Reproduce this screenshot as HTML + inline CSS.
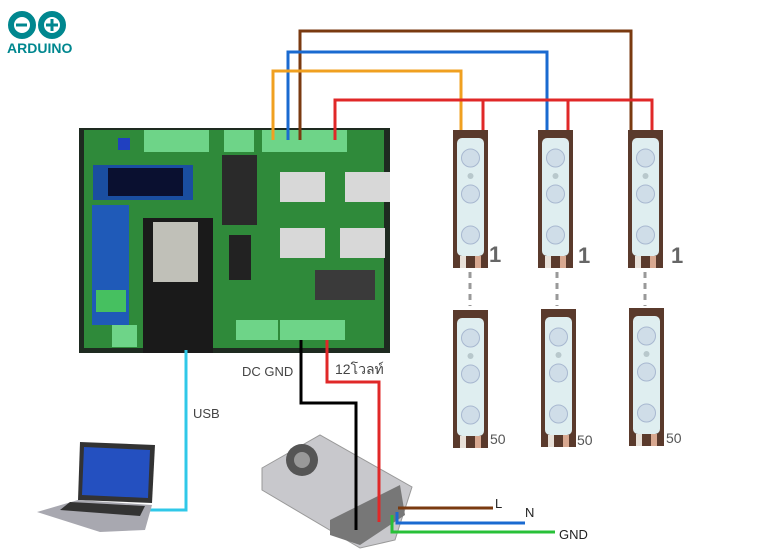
<!DOCTYPE html>
<html><head><meta charset="utf-8"><style>
html,body{margin:0;padding:0;background:#fff;width:768px;height:554px;overflow:hidden}
svg{display:block}
text{font-family:"Liberation Sans","Noto Sans CJK SC",sans-serif}
</style></head><body>
<svg width="768" height="554" viewBox="0 0 768 554" xmlns="http://www.w3.org/2000/svg">
<defs>
<g id="led">
<rect x="0" y="0" width="35" height="138" fill="#5a3a2c"/>
<rect x="4" y="8" width="27" height="118" rx="5" fill="#dfeef0"/>
<circle cx="17.5" cy="28" r="9" fill="#cfdde8" stroke="#a8b8d0"/>
<circle cx="17.5" cy="64" r="9" fill="#cfdde8" stroke="#a8b8d0"/>
<circle cx="17.5" cy="105" r="9" fill="#cfdde8" stroke="#a8b8d0"/>
<circle cx="17.5" cy="46" r="3" fill="#b8c8cc"/>
<rect x="7" y="126" width="6" height="12" fill="#e8e0d8"/>
<rect x="22" y="126" width="6" height="12" fill="#d8a890"/>
</g>
</defs>
<!-- Arduino logo -->
<g fill="none" stroke="#00878f" stroke-width="6">
<circle cx="22" cy="25" r="11"/><circle cx="52" cy="25" r="11"/>
</g>
<g stroke="#00878f" stroke-width="3"><line x1="16" y1="25" x2="27" y2="25"/><line x1="46" y1="25" x2="58" y2="25"/><line x1="52" y1="19" x2="52" y2="31"/></g>
<text x="7" y="53" font-size="14" font-weight="bold" fill="#00878f">ARDUINO</text>

<!-- board -->
<rect x="79" y="128" width="311" height="225" fill="#1e2a20"/>
<rect x="84" y="130" width="300" height="218" fill="#2f8a3a"/>
<rect x="93" y="165" width="100" height="35" fill="#1a4ea0"/>
<rect x="108" y="168" width="75" height="28" fill="#0a1030"/>
<rect x="92" y="205" width="37" height="120" fill="#1f5ab8"/>
<rect x="96" y="290" width="30" height="22" fill="#46c060"/>
<rect x="143" y="218" width="70" height="135" fill="#1a1a1a"/>
<rect x="153" y="222" width="45" height="60" fill="#c0c0b8"/>
<rect x="144" y="130" width="65" height="22" fill="#6ed488"/>
<rect x="224" y="130" width="30" height="22" fill="#6ed488"/>
<rect x="262" y="130" width="85" height="22" fill="#6ed488"/>
<rect x="222" y="155" width="35" height="70" fill="#2a2a2a"/>
<rect x="280" y="172" width="45" height="30" fill="#d8d8d8"/>
<rect x="345" y="172" width="45" height="30" fill="#d8d8d8"/>
<rect x="280" y="228" width="45" height="30" fill="#d8d8d8"/>
<rect x="340" y="228" width="45" height="30" fill="#d8d8d8"/>
<rect x="229" y="235" width="22" height="45" fill="#222"/>
<rect x="236" y="320" width="42" height="20" fill="#6ed488"/>
<rect x="280" y="320" width="65" height="20" fill="#6ed488"/>
<rect x="112" y="325" width="25" height="22" fill="#6ed488"/>
<rect x="118" y="138" width="12" height="12" fill="#2040c0"/>
<rect x="315" y="270" width="60" height="30" fill="#3a3a3a"/>

<!-- top wires -->
<g fill="none" stroke-width="3">
<polyline stroke="#7a3a10" points="300,140 300,31 631,31 631,130"/>
<polyline stroke="#1a6ad0" points="288,140 288,52 547,52 547,130"/>
<polyline stroke="#f0a020" points="273,140 273,71 461,71 461,130"/>
<polyline stroke="#e02828" points="335,140 335,100 652,100 652,130"/>
<line stroke="#e02828" x1="483" y1="100" x2="483" y2="130"/>
<line stroke="#e02828" x1="568" y1="100" x2="568" y2="130"/>
</g>

<!-- LEDs -->
<use href="#led" x="453" y="130"/><use href="#led" x="538" y="130"/><use href="#led" x="628" y="130"/>
<use href="#led" x="453" y="310"/><use href="#led" x="541" y="309"/><use href="#led" x="629" y="308"/>
<g stroke="#999" stroke-width="3" stroke-dasharray="6,5">
<line x1="470" y1="272" x2="470" y2="306"/><line x1="557" y1="272" x2="557" y2="306"/><line x1="645" y1="272" x2="645" y2="306"/>
</g>
<g fill="#666" font-size="22" font-weight="bold">
<text x="489" y="262">1</text><text x="578" y="263">1</text><text x="671" y="263">1</text>
</g>
<g fill="#555" font-size="14">
<text x="490" y="444">50</text><text x="577" y="445">50</text><text x="666" y="443">50</text>
</g>

<!-- USB -->
<polyline fill="none" stroke="#30c8e8" stroke-width="3" points="186,350 186,510 142,510"/>
<text x="193" y="418" font-size="13" fill="#444">USB</text>
<!-- laptop -->
<polygon points="80,442 155,445 152,503 78,500" fill="#333"/>
<polygon points="84,447 150,450 148,498 82,495" fill="#2450c0"/>
<polygon points="78,500 152,505 145,530 100,532 37,512" fill="#a8a8b0"/>
<polygon points="70,502 145,506 140,516 60,510" fill="#333"/>

<!-- power -->
<polygon points="262,468 320,435 412,487 395,540 360,548 262,490" fill="#c8c8cc" stroke="#999"/>
<circle cx="302" cy="460" r="16" fill="#555"/><circle cx="302" cy="460" r="8" fill="#999"/>
<polygon points="330,520 400,485 405,515 360,545 330,535" fill="#777"/>
<g fill="none" stroke-width="3">
<polyline stroke="#000" points="301,340 301,403 356,403 356,530"/>
<polyline stroke="#e02828" points="327,340 327,382 379,382 379,522"/>
<line stroke="#7a3a10" x1="398" y1="508" x2="493" y2="508"/>
<polyline stroke="#1a6ad0" points="397,512 397,523 525,523"/>
<polyline stroke="#28c038" points="392,515 392,532 555,532"/>
</g>
<text x="242" y="376" font-size="13" fill="#444">DC GND</text>
<text x="335" y="374" font-size="14" fill="#444">12โวลท์</text>
<g font-size="13" fill="#222"><text x="495" y="508">L</text><text x="525" y="517">N</text><text x="559" y="539">GND</text></g>
</svg>
</body></html>
